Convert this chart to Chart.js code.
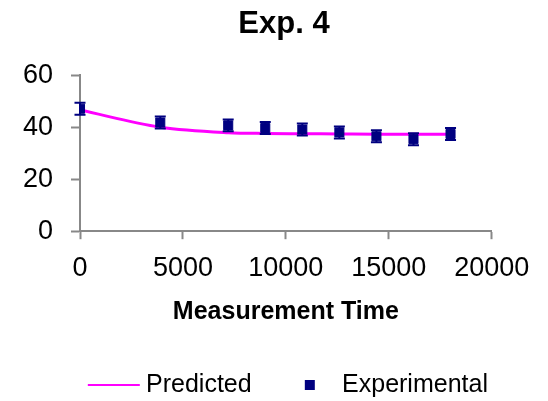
<!DOCTYPE html>
<html><head><meta charset="utf-8">
<script src="https://cdn.jsdelivr.net/npm/chart.js@4/dist/chart.umd.min.js"></script>
<style>html,body{margin:0;padding:0;background:#fff}#wrap{width:548px;height:401px}</style>
</head><body><div id="wrap"><canvas id="c" width="548" height="401"></canvas></div>
<script>
const times = [0, 3900, 7200, 9000, 10800, 12600, 14400, 16200, 18000];
const predicted = [46.6, 40.0, 37.9, 37.6, 37.5, 37.4, 37.3, 37.3, 37.3];
const experimental = [47.1, 41.8, 40.7, 39.7, 39.1, 38.0, 36.5, 35.4, 37.4];
const expError = [2.3, 2.3, 2.3, 2.3, 2.3, 2.3, 2.3, 2.3, 2.3];
const xTicks = [0, 5000, 10000, 15000, 20000];
const yTicks = [0, 20, 40, 60];

const SANS = "'Liberation Sans', Arial, sans-serif";

function makeSwatch(kind) {
  const c = document.createElement('canvas');
  c.width = 80; c.height = 12;
  const g = c.getContext('2d');
  if (kind === 'line') {
    g.fillStyle = '#FF00FF';
    g.fillRect(21, 5, 52, 2);
  } else {
    g.fillStyle = '#000080';
    g.fillRect(42, 1, 10, 10);
  }
  return c;
}

const errorBars = {
  id: 'errorBars',
  beforeDatasetDraw(chart, args) {
    if (args.index !== 1) return;
    const ctx = chart.ctx, xs = chart.scales.x, ys = chart.scales.y;
    ctx.save();
    ctx.strokeStyle = '#000080';
    ctx.lineWidth = 2;
    times.forEach((t, i) => {
      const px = xs.getPixelForValue(t);
      const top = ys.getPixelForValue(experimental[i] + expError[i]);
      const bot = ys.getPixelForValue(experimental[i] - expError[i]);
      ctx.beginPath();
      ctx.moveTo(px, top); ctx.lineTo(px, bot);
      ctx.moveTo(px - 5.5, top); ctx.lineTo(px + 5.5, top);
      ctx.moveTo(px - 5.5, bot); ctx.lineTo(px + 5.5, bot);
      ctx.stroke();
    });
    ctx.restore();
  }
};

new Chart(document.getElementById('c'), {
  type: 'scatter',
  data: {
    datasets: [
      {
        label: 'Predicted',
        data: times.map((t, i) => ({x: t, y: predicted[i]})),
        showLine: true,
        borderColor: '#FF00FF',
        backgroundColor: '#FF00FF',
        borderWidth: 3,
        pointRadius: 0,
        cubicInterpolationMode: 'monotone',
        order: 2
      },
      {
        label: 'Experimental',
        data: times.map((t, i) => ({x: t, y: experimental[i]})),
        showLine: false,
        pointStyle: 'rect',
        pointRadius: 6.4,
        backgroundColor: '#000080',
        borderColor: '#000080',
        borderWidth: 1,
        order: 1
      }
    ]
  },
  options: {
    responsive: false,
    animation: false,
    layout: { padding: { left: 5, right: -15, top: 0, bottom: -6.5 } },
    plugins: {
      tooltip: { enabled: false },
      title: {
        display: true,
        text: 'Exp. 4',
        color: '#000',
        font: { family: SANS, size: 31, weight: 'bold' },
        padding: { top: 6, bottom: 32 }
      },
      legend: {
        position: 'bottom',
        labels: {
          usePointStyle: true,
          pointStyleWidth: 53.5,
          boxHeight: 12,
          color: '#000',
          font: { family: SANS, size: 25 },
          padding: 24.4,
          generateLabels(chart) {
            return [
              { text: 'Predicted', pointStyle: makeSwatch('line'), strokeStyle: '#FF00FF', fillStyle: '#FF00FF', lineWidth: 0, datasetIndex: 0 },
              { text: 'Experimental', pointStyle: makeSwatch('rect'), strokeStyle: '#000080', fillStyle: '#000080', lineWidth: 0, datasetIndex: 1 }
            ];
          }
        }
      }
    },
    scales: {
      x: {
        type: 'linear',
        min: xTicks[0], max: xTicks[xTicks.length - 1],
        afterBuildTicks(axis) { axis.ticks = xTicks.map(v => ({value: v})); },
        afterFit(axis) { axis.paddingRight = 56.3; },
        grid: { display: true, drawOnChartArea: false, drawTicks: true, tickLength: 8, tickColor: '#888', tickWidth: 2 },
        border: { display: true, color: '#888', width: 2 },
        ticks: { color: '#000', font: { family: SANS, size: 27 }, padding: 13, maxRotation: 0, callback: v => String(v) },
        title: { display: true, text: 'Measurement Time', color: '#000', font: { family: SANS, size: 25, weight: 'bold' }, padding: { top: 0, bottom: 20.5 } }
      },
      y: {
        type: 'linear',
        min: yTicks[0], max: yTicks[yTicks.length - 1],
        afterBuildTicks(axis) { axis.ticks = yTicks.map(v => ({value: v})); },
        afterFit(axis) { axis.width = 75; },
        grid: { display: true, drawOnChartArea: false, drawTicks: true, tickLength: 9, tickColor: '#888', tickWidth: 2 },
        border: { display: true, color: '#888', width: 2 },
        ticks: { color: '#000', font: { family: SANS, size: 27 }, padding: 18, callback: v => String(v) }
      }
    }
  },
  plugins: [errorBars]
});
</script></body></html>
